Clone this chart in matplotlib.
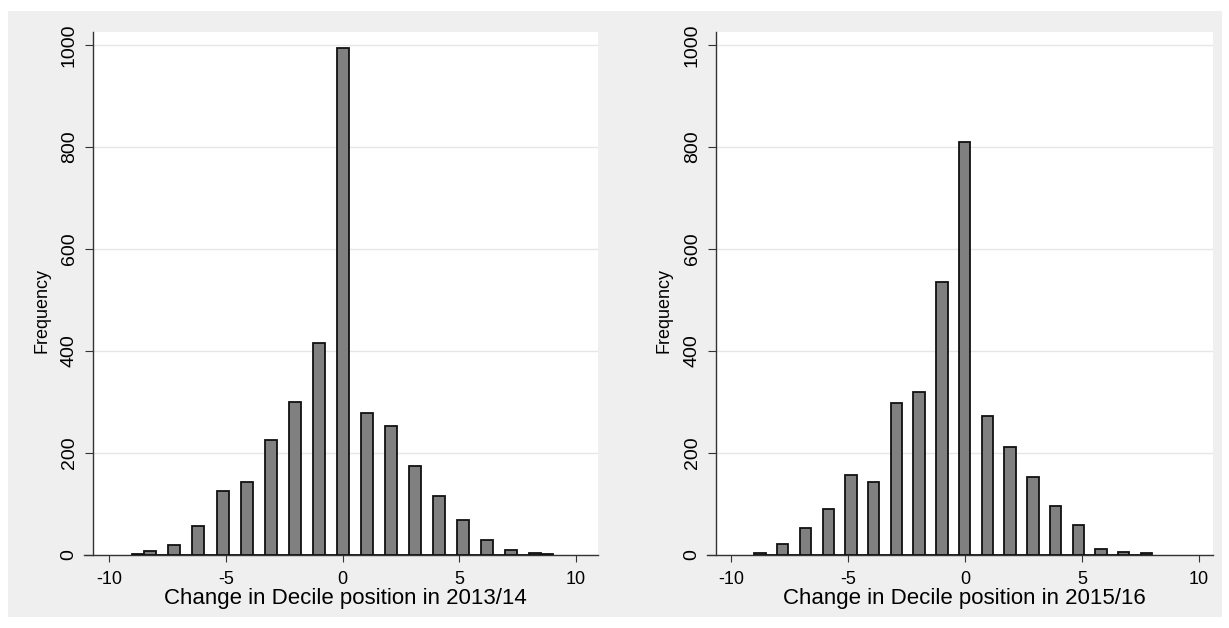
"""
Histograms of the change in decile position, 2013/14 and 2015/16
"""

import matplotlib
matplotlib.use("Agg")
import matplotlib.pyplot as plt
import numpy as np
from matplotlib.patches import Rectangle

plt.rcParams["font.family"] = ["Liberation Sans", "DejaVu Sans"]
plt.rcParams["axes.unicode_minus"] = False

# ------------------------------- Data -------------------------------------- #
# Change in decile position (integer values) and frequency of each value
change_1314 = np.arange(-9, 10)
freq_1314 = [2, 7, 19, 56, 125, 143, 226, 300, 416, 993,
             278, 253, 175, 115, 68, 30, 9, 4, 1]

change_1516 = np.arange(-9, 9)
freq_1516 = [4, 22, 53, 91, 157, 143, 297, 320, 535, 809,
             273, 211, 152, 97, 58, 11, 6, 3]

# Stata's default histogram uses 35 bins over the data range
n_bins = 35

x_ticks = [-10, -5, 0, 5, 10]
y_ticks = [0, 200, 400, 600, 800, 1000]

panels = [
    (change_1314, freq_1314, "Change in Decile position in 2013/14"),
    (change_1516, freq_1516, "Change in Decile position in 2015/16"),
]
# --------------------------------------------------------------------------- #

W, H = 1229, 628
fig = plt.figure(figsize=(W / 100, H / 100), dpi=100)
fig.patch.set_facecolor("white")

# Light grey graph region behind both panels
bg = Rectangle((8 / W, 1 - 617 / H), (1222 - 8) / W, (617 - 11) / H,
               transform=fig.transFigure, facecolor="#efefef",
               edgecolor="none", zorder=-10)
fig.add_artist(bg)

# Plot regions in pixel coords (left, right, top, bottom)
boxes = [(93, 598, 32, 555), (716, 1213, 32, 555)]
xlims = [(-10.69, 10.94), (-10.64, 10.6)]

for (x, freq, xlabel), (l, r, t, b), xlim in zip(panels, boxes, xlims):
    ax = fig.add_axes([l / W, 1 - b / H, (r - l) / W, (b - t) / H])
    ax.set_facecolor("white")

    ax.hist(x, bins=n_bins, weights=freq, color="#808080",
            edgecolor="#111111", linewidth=1.3, zorder=3)

    ax.set_xlim(*xlim)
    ax.set_ylim(0, 1025)
    ax.set_xticks(x_ticks)
    ax.set_yticks(y_ticks)
    ax.set_yticklabels([str(v) for v in y_ticks], rotation=90, va="center")

    ax.grid(axis="y", color="#e6e6e6", linewidth=1.0, zorder=0)
    ax.set_axisbelow(True)

    for side in ["top", "right"]:
        ax.spines[side].set_visible(False)
    for side in ["left", "bottom"]:
        ax.spines[side].set_color("#333333")
        ax.spines[side].set_linewidth(1.0)
    # Stata's x axis line runs a little past the y axis on the left
    ax.spines["bottom"].set_bounds(xlim[0] - 0.4, xlim[1])

    ax.tick_params(axis="x", length=5, width=0.8, color="#333333",
                   pad=6.5, labelsize=13)
    ax.tick_params(axis="y", length=6, width=0.8, color="#333333",
                   pad=5, labelsize=14)

    ax.set_xlabel(xlabel, fontsize=16, labelpad=0)
    ax.set_ylabel("Frequency", fontsize=13)
    ax.yaxis.set_label_coords(-43 / (r - l), 0.467)

plt.savefig("out.png", dpi=100)
